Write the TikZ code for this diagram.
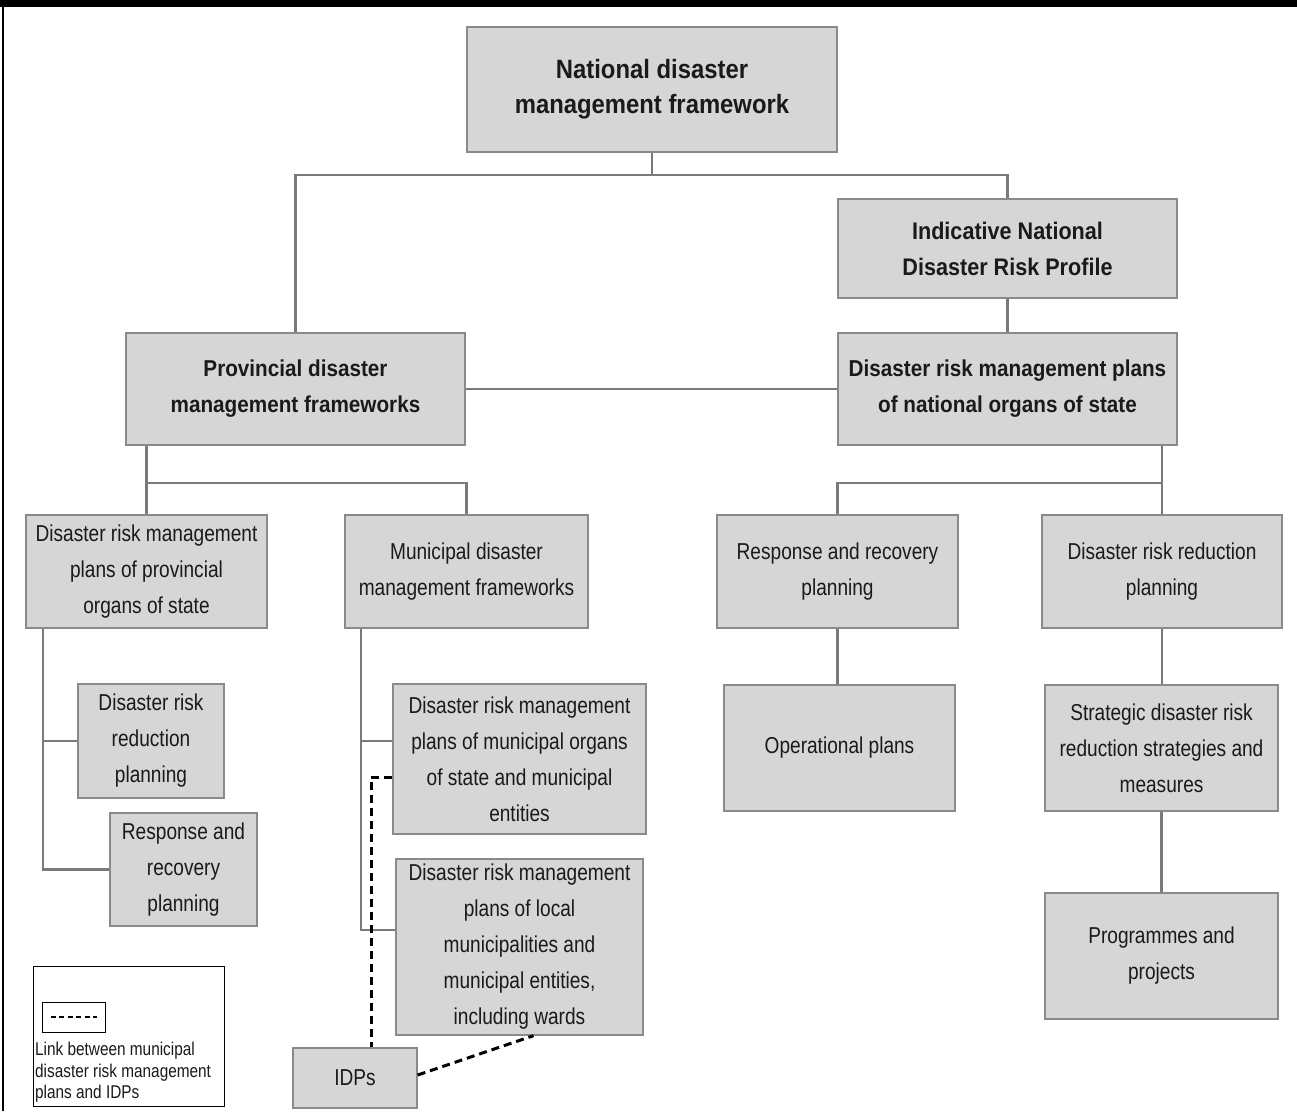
\documentclass[tikz,border=0pt]{standalone}
\usepackage{fontspec}
\setmainfont{Liberation Sans}[FakeStretch=0.83,BoldFeatures={FakeStretch=0.9}]
\definecolor{boxfill}{HTML}{D6D6D6}
\definecolor{boxline}{HTML}{8A8A8A}
\definecolor{conn}{HTML}{7A7A7A}
\definecolor{txt}{HTML}{1A1A1A}
\tikzset{
  box/.style={draw=boxline, fill=boxfill, line width=1.3pt, align=center, inner sep=0pt,
    font=\fontsize{23}{36}\selectfont, text=txt},
  bbox/.style={box, font=\bfseries\fontsize{23}{36}\selectfont},
  link/.style={draw=conn, line width=2.6pt},
  dlink/.style={draw=black, line width=3pt, dash pattern=on 8pt off 5pt},
}
\begin{document}
\begin{tikzpicture}[x=1pt,y=-1pt]
\useasboundingbox (0,0) rectangle (1297,1111);
\fill[black] (0,0) rectangle (1297,7);
\draw[black, line width=1.5pt] (3,7) -- (3,1111);

\node[bbox, font=\bfseries\fontsize{26.5}{35}\selectfont, minimum width=370pt, minimum height=125pt] (nat) at (652,89.5) {National disaster\\management framework};
\node[bbox, font=\bfseries\fontsize{24}{36}\selectfont, minimum width=339pt, minimum height=99pt] (ind) at (1007.5,248.5) {Indicative National\\Disaster Risk Profile};
\node[bbox, minimum width=339pt, minimum height=112pt] (prov) at (295.5,389) {Provincial disaster\\management frameworks};
\node[bbox, minimum width=339pt, minimum height=112pt] (natp) at (1007.5,389) {Disaster risk management plans\\of national organs of state};

\node[box, minimum width=241pt, minimum height=113pt] (provp) at (146.5,571.5) {Disaster risk management\\plans of provincial\\organs of state};
\node[box, minimum width=243pt, minimum height=113pt] (munf) at (466.5,571.5) {Municipal disaster\\management frameworks};
\node[box, minimum width=241pt, minimum height=113pt] (rr) at (837.5,571.5) {Response and recovery\\planning};
\node[box, minimum width=240pt, minimum height=113pt] (drr) at (1162,571.5) {Disaster risk reduction\\planning};

\node[box, minimum width=146pt, minimum height=114pt] (drrl) at (151,741) {Disaster risk\\reduction\\planning};
\node[box, minimum width=147pt, minimum height=113pt] (rrl) at (183.5,869.5) {Response and\\recovery\\planning};

\node[box, minimum width=253pt, minimum height=150pt] (mo) at (519.5,759) {Disaster risk management\\plans of municipal organs\\of state and municipal\\entities};
\node[box, minimum width=247pt, minimum height=176pt] (lm) at (519.5,947) {Disaster risk management\\plans of local\\municipalities and\\municipal entities,\\including wards};

\node[box, minimum width=231pt, minimum height=126pt] (op) at (839.5,748) {Operational plans};
\node[box, minimum width=233pt, minimum height=126pt] (str) at (1161.5,748) {Strategic disaster risk\\reduction strategies and\\measures};
\node[box, minimum width=233pt, minimum height=126pt] (prog) at (1161.5,956) {Programmes and\\projects};

\node[box, minimum width=124pt, minimum height=60pt] (idp) at (355,1078) {IDPs};

% connectors
\coordinate (j1) at (652,175);
\coordinate (j2) at (0,483);
\draw[link] (nat.south) -- (j1);
\draw[link] (prov.north) -- (prov.north |- j1) -- (ind.north |- j1) -- (ind.north);
\draw[link] (ind.south) -- (natp.north);
\draw[link] (prov.east) -- (natp.west);

\draw[link] (provp.north |- prov.south) -- (provp.north);
\draw[link] (provp.north |- j2) -- (munf.north |- j2) -- (munf.north);

\draw[link] (natp.south -| drr.north) -- (drr.north);
\draw[link] (rr.north) -- (rr.north |- j2) -- (drr.north |- j2);

\coordinate (p1) at (43,0);
\draw[link] (p1 |- provp.south) -- (p1 |- rrl.west) -- (rrl.west);
\draw[link] (p1 |- drrl.west) -- (drrl.west);

\coordinate (m1) at (361,930);
\draw[link] (m1 |- munf.south) -- (m1) -- (m1 -| lm.west);
\draw[link] (m1 |- drrl.west) -- (drrl.west -| mo.west);

\draw[link] (rr.south) -- (rr.south |- op.north);
\draw[link] (drr.south) -- (drr.south |- str.north);
\draw[link] (str.south) -- (prog.north);

% dashed links
\coordinate (d1) at (371,777);
\draw[dlink] (d1 -| mo.west) -- (d1) -- (d1 |- idp.north);
\draw[dlink] ([yshift=3pt]idp.east) -- ([xshift=14pt]lm.south);

% legend
\node[draw=black, line width=1pt, fill=white, minimum width=191pt, minimum height=140pt, inner sep=0pt] (leg) at (128.5,1036) {};
\node[draw=black, line width=1pt, minimum width=63pt, minimum height=30pt, inner sep=0pt] (legkey) at (73.5,1017) {};
\draw[black, line width=2pt, dash pattern=on 5pt off 3.5pt] ([xshift=9pt]legkey.west) -- ([xshift=-9pt]legkey.east);
\node[anchor=north west, align=left, inner sep=0pt, text=txt, font=\fontsize{18.5}{21.5}\selectfont] (legtxt) at (35,1042) {Link between municipal\\disaster risk management\\plans and IDPs};
\end{tikzpicture}
\end{document}
